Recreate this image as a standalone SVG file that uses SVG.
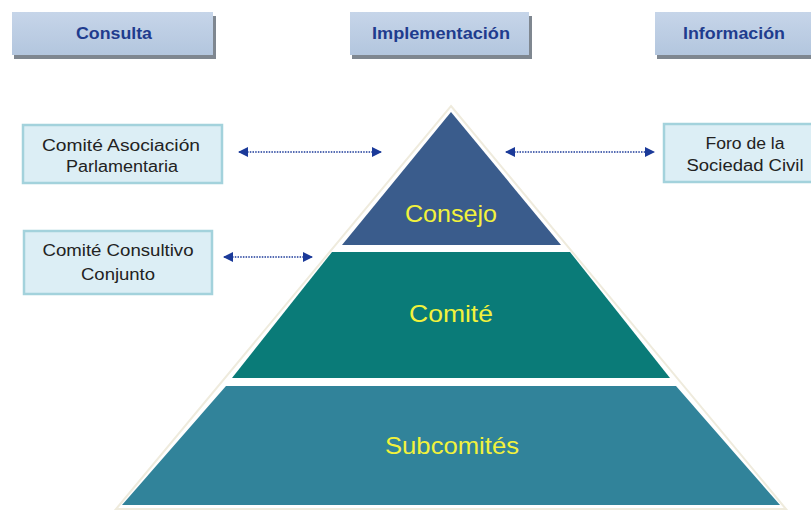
<svg xmlns="http://www.w3.org/2000/svg" width="811" height="515" viewBox="0 0 811 515">
<defs>
<linearGradient id="hdr" x1="0" y1="0" x2="0" y2="1">
<stop offset="0" stop-color="#C6D5E9"/><stop offset="1" stop-color="#B3C6DE"/>
</linearGradient>
<marker id="ah" viewBox="0 0 10 10" refX="9" refY="5" markerWidth="11" markerHeight="10" markerUnits="userSpaceOnUse" orient="auto-start-reverse">
<path d="M0,0 L10,5 L0,10 Z" fill="#1B3A99"/>
</marker>
<style>
.hdr{fill:url(#hdr)}
.shd{fill:#7F8790}
.htxt{font-family:"Liberation Sans",Arial,sans-serif;font-weight:bold;font-size:16px;fill:#1F3C8E;text-anchor:middle}
.side{fill:#DCEEF5;stroke:#A3D2DC;stroke-width:2.5}
.stxt{font-family:"Liberation Sans",Arial,sans-serif;font-size:16px;fill:#222;text-anchor:middle}
.ptxt{font-family:"Liberation Sans",Arial,sans-serif;font-size:24px;fill:#F2F23C;text-anchor:middle}
.arr{stroke:#1B3A99;stroke-width:1.6;stroke-dasharray:1.5 1.2;fill:none;marker-start:url(#ah);marker-end:url(#ah)}
</style>
</defs>
<rect width="811" height="515" fill="#FFFFFF"/>

<g id="hdr-consulta">
<rect class="shd" x="14" y="16" width="202" height="43"/>
<rect class="hdr" x="12" y="12" width="201" height="43"/>
<text class="htxt" x="114" y="39" textLength="76" lengthAdjust="spacingAndGlyphs">Consulta</text>
</g>
<g id="hdr-implementacion">
<rect class="shd" x="352" y="16" width="180" height="43"/>
<rect class="hdr" x="350" y="12" width="179" height="43"/>
<text class="htxt" x="441" y="39" textLength="138" lengthAdjust="spacingAndGlyphs">Implementación</text>
</g>
<g id="hdr-informacion">
<rect class="shd" x="657" y="16" width="156" height="43"/>
<rect class="hdr" x="655" y="12" width="158" height="43"/>
<text class="htxt" x="734" y="39" textLength="102" lengthAdjust="spacingAndGlyphs">Información</text>
</g>

<g id="pyramid-outline">
<polygon points="451,106 786,509 116,509" fill="none" stroke="#EFEBDD" stroke-width="2"/>
</g>
<g id="consejo">
<polygon points="451,112 561,245 342,245" fill="#3A5C8C"/>
<text class="ptxt" x="451" y="222" textLength="92" lengthAdjust="spacingAndGlyphs">Consejo</text>
</g>
<g id="comite">
<polygon points="332,252 570,252 670,378 232,378" fill="#0A7B78"/>
<text class="ptxt" x="451" y="322" textLength="84" lengthAdjust="spacingAndGlyphs">Comité</text>
</g>
<g id="subcomites">
<polygon points="226,386 676,386 780,505 122,505" fill="#31839A"/>
<text class="ptxt" x="452" y="454" textLength="134" lengthAdjust="spacingAndGlyphs">Subcomités</text>
</g>

<g id="cap">
<rect class="side" x="23" y="125" width="199" height="58"/>
<text class="stxt" x="121" y="151" textLength="158" lengthAdjust="spacingAndGlyphs">Comité  Asociación</text>
<text class="stxt" x="122" y="172" textLength="112" lengthAdjust="spacingAndGlyphs">Parlamentaria</text>
</g>
<g id="ccc">
<rect class="side" x="24" y="231" width="188" height="63"/>
<text class="stxt" x="118" y="256" textLength="151" lengthAdjust="spacingAndGlyphs">Comité Consultivo</text>
<text class="stxt" x="118" y="280" textLength="74" lengthAdjust="spacingAndGlyphs">Conjunto</text>
</g>
<g id="foro">
<rect class="side" x="664" y="124" width="150" height="58"/>
<text class="stxt" x="745" y="149" textLength="79" lengthAdjust="spacingAndGlyphs">Foro de la</text>
<text class="stxt" x="745" y="171" textLength="117" lengthAdjust="spacingAndGlyphs">Sociedad Civil</text>
</g>

<g id="connectors">
<line class="arr" x1="239" y1="152" x2="381" y2="152"/>
<line class="arr" x1="224" y1="257" x2="312" y2="257"/>
<line class="arr" x1="506" y1="152" x2="654" y2="152"/>
</g>
</svg>
